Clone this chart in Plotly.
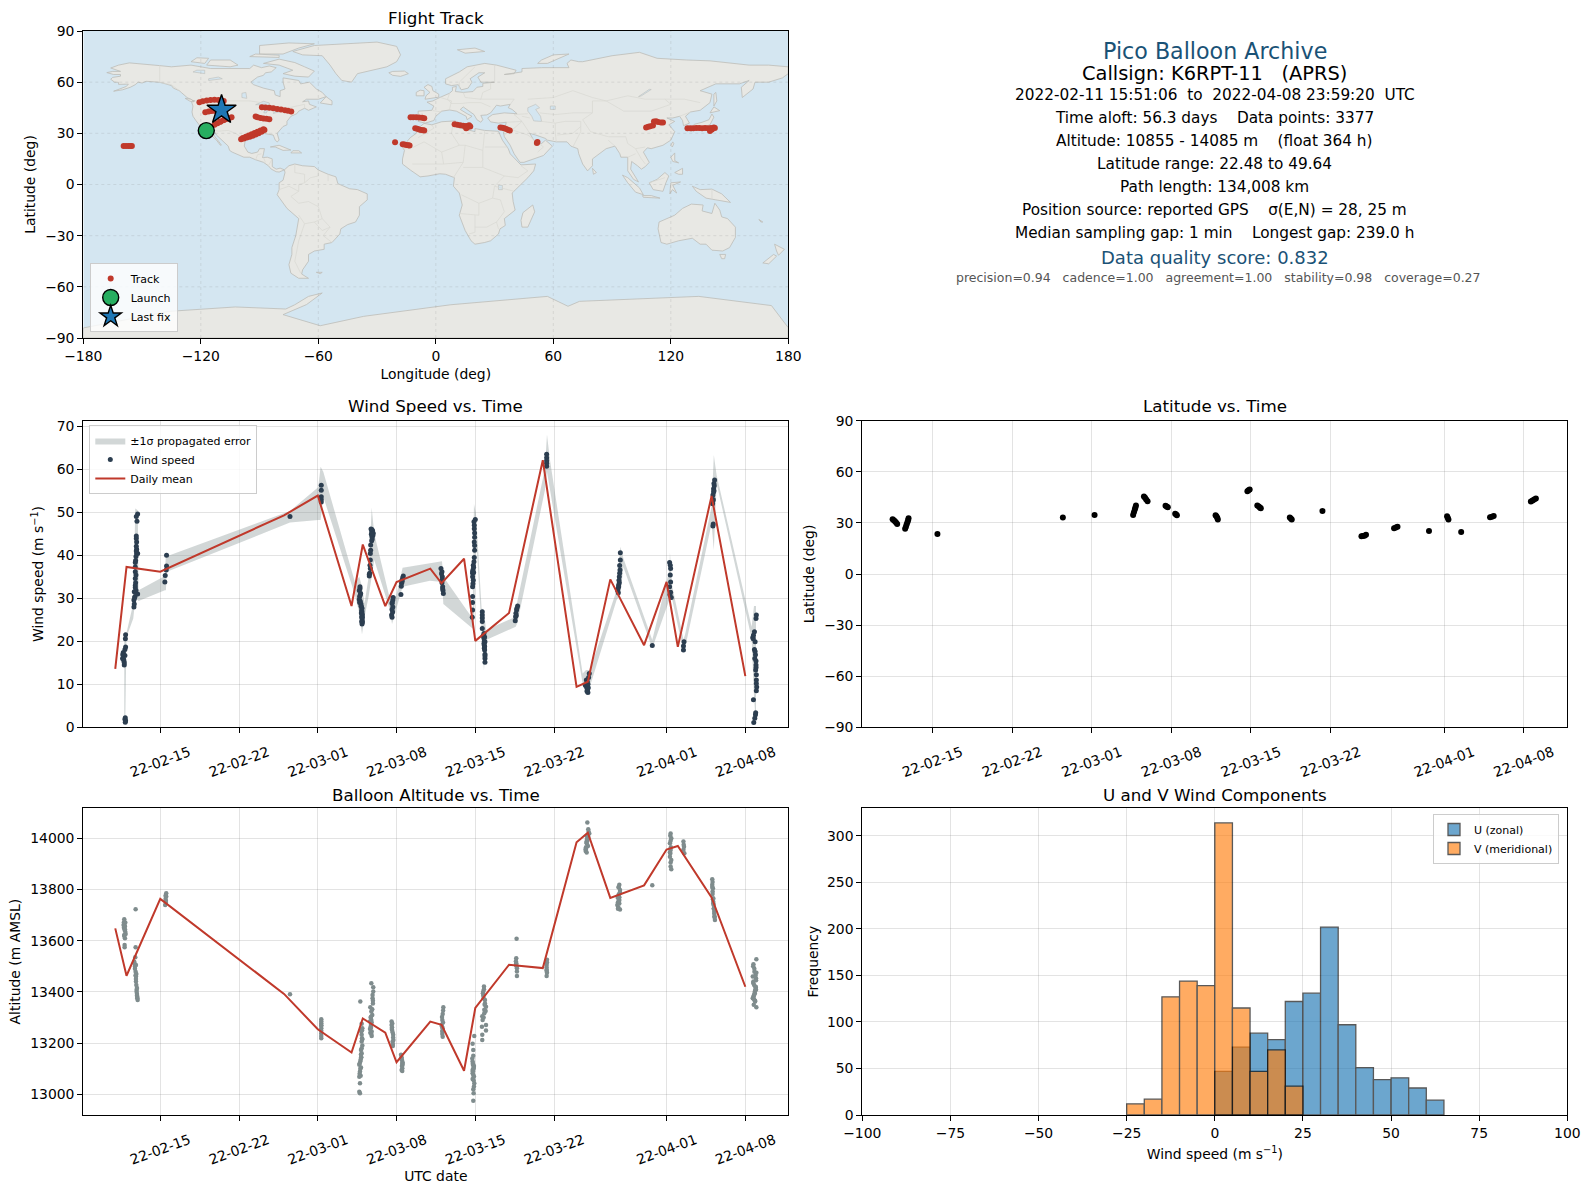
import pandas as pd
import plotly.graph_objects as go

W, H = 1590, 1189
BASE = pd.Timestamp("2022-02-15")

# --- flight track (lon, lat), one line per region ---
track_lon = [-159.4, -158.2, -157, -156, -155.2,
             -120.7, -119, -117, -115, -113, -111, -109.5, -108.3,
             -117.7, -116, -114.5, -113, -112,
             -113, -111.5, -110, -108.5, -107, -105.5, -104.3, -110, -108, -106,
             -99.4, -98, -96.5, -95, -93.5, -92, -90.5, -89, -87.5, -98.5, -97, -95.5, -94, -92.5, -91, -89.5, -88,
             -92, -91, -89.5, -88, -86.5, -85,
             -88.8, -87, -85, -83, -81, -79, -77, -75.5, -73.8,
             -12.9, -11.5, -10, -8.5, -7, -5.9,
             -10.5, -9.5, -8.5, -7.5, -6.5, -5.9,
             -20.8, -16.9, -16, -15, -14, -13.4,
             9.6, 11, 12.5, 14, 15.5, 17, 17.6, 16, 15.5,
             33, 34, 35, 36, 37, 37.8,
             51.6, 51.9,
             107.4, 108.5, 109.5, 110.9, 111.4, 112.5, 113.5, 115, 116,
             128.5, 130, 131.5, 133, 134.5, 136, 137.5, 139, 140.5, 142, 142.5, 141, 140]
track_lat = [22.5, 22.5, 22.6, 22.5, 22.5,
             48.2, 48.8, 49.2, 49.5, 49.64, 49.6, 49.3, 49,
             42.4, 42.8, 43.1, 43.3, 43.2,
             35, 35.9, 36.8, 37.6, 38.4, 39, 39.4, 37, 38, 38.8,
             26.6, 26.9, 27.5, 28, 28.6, 29.3, 30, 31, 32, 27.3, 28, 28.8, 29.4, 30.2, 31, 31.7, 32.4,
             39.8, 39.4, 39, 38.7, 38.5, 38.3,
             45.3, 45.2, 45, 44.7, 44.3, 44, 43.5, 43.2, 42.8,
             39.4, 39.5, 39.4, 39.3, 39.1, 38.9,
             33, 32.7, 32.3, 32, 31.8, 31.6,
             24.8, 23.6, 23.4, 23.1, 23, 22.9,
             35.3, 35, 34.8, 34.5, 34.3, 34.8, 34, 33.4, 33,
             33.4, 33.3, 33, 32.6, 32, 31.6,
             24.4, 24.9,
             33.4, 33.8, 34.2, 34.6, 37, 37.1, 36.6, 36.4, 36.3,
             33, 33, 33, 33.1, 33.1, 33, 33.2, 33, 33.2, 33.4, 33.2, 32.2, 31.4]
launch_lon, launch_lat = [-117.2], [31.6]
last_lon, last_lat = [-109.4], [43.7]

# --- base map outlines, traced by hand (lon, lat) ---
north_america = [(-166, 68.3), (-163, 67), (-161, 66.3), (-165, 66.3), (-168, 65.6), (-164.5, 64.5), (-161, 64.5), (-161, 63.5),
                 (-165, 62.8), (-166, 61.7), (-164, 60), (-162, 59.9), (-162, 58.7), (-158, 58.8), (-157, 58.8), (-158, 57.5),
                 (-162, 55.5), (-164.5, 54.7), (-160, 55.5), (-156, 57), (-153.5, 58.5), (-152, 60), (-150, 59.5), (-148, 60.5),
                 (-145, 60.3), (-141, 59.9), (-138, 59), (-135, 58), (-134, 56.5), (-131, 55), (-130, 54), (-128, 52), (-127, 51),
                 (-124.5, 49.5), (-123, 49), (-124.7, 48.3), (-124, 46), (-124.5, 42.5), (-124, 40), (-122.5, 37.5), (-120.5, 34.5),
                 (-118, 33.7), (-117, 32.5), (-115.7, 30), (-114, 28), (-112, 26), (-110, 23), (-109.5, 23.1), (-111, 25.5),
                 (-112.8, 28), (-114.7, 31.5), (-113, 31), (-112, 29), (-110, 27), (-109, 25.5), (-106, 22.5), (-105.3, 20),
                 (-104, 19), (-101, 17.5), (-98, 16), (-95, 16), (-92, 14.5), (-88, 13), (-85.5, 11), (-84, 9), (-81.5, 7.5),
                 (-80, 7.3), (-78, 8), (-77.3, 8.6), (-79.5, 9.6), (-81.5, 9), (-83.5, 10.5), (-83.5, 15), (-86, 16), (-88.5, 15.8),
                 (-88, 18), (-87.5, 21), (-90, 21), (-91, 19), (-94, 18.2), (-96, 19), (-97.8, 22.5), (-97.2, 26), (-97, 28),
                 (-94, 29.5), (-90, 29), (-89, 30.2), (-85, 29.6), (-83, 29), (-82, 26), (-81, 25), (-80, 26), (-81, 30), (-78, 34),
                 (-76, 35), (-76, 37), (-74, 40), (-71, 41.5), (-70, 43), (-67, 44.7), (-65, 43.5), (-61, 45.5), (-64.5, 47),
                 (-65, 49), (-68, 48.5), (-66, 50), (-60, 50), (-56, 51.5), (-58, 54), (-61, 56), (-64.5, 60), (-69, 59), (-70, 61),
                 (-78, 62.5), (-78, 60), (-77, 56), (-79.5, 55), (-79.5, 51.5), (-82, 52.5), (-82.5, 55), (-88, 56.5), (-93, 58.5),
                 (-94.5, 60), (-91, 63), (-88, 64), (-87, 65.5), (-84, 66), (-81.5, 68.5), (-85, 69.5), (-89, 68.5), (-93, 70),
                 (-95, 68), (-100, 68), (-108, 68), (-115, 68), (-125, 70), (-135, 69), (-141, 69.7), (-150, 70.5), (-156.5, 71.3),
                 (-162, 70), (-166, 68.3)]
south_america = [(-77.3, 8.6), (-75, 11), (-72, 12), (-68, 11), (-62, 10.5), (-60, 8.5), (-55, 6), (-51, 4.5), (-50, 0.5), (-44, -2.5),
                 (-40, -3), (-35, -5.5), (-35, -9), (-39, -13), (-39, -18), (-41, -22), (-45, -23.5), (-48.5, -26), (-49, -29),
                 (-53, -34), (-57, -35), (-57, -38), (-62, -39), (-65, -41), (-65, -45), (-68, -50), (-68.5, -52.5), (-65, -55),
                 (-70, -55), (-74, -52), (-75, -47), (-73.5, -41), (-73.5, -37), (-71.5, -30), (-70, -20), (-76, -14), (-81, -6),
                 (-80, -3), (-80, 1), (-78, 2.5), (-77, 7)]
africa = [(-6, 35.8), (-2, 35), (3, 36.8), (10, 37.3), (11, 33.5), (15, 32.3), (20, 31), (20, 32.8), (25, 31.7), (32, 31.2), (32.5, 30),
          (34, 26), (37, 21), (38, 18), (43, 12), (43.5, 11.5), (51, 12), (50, 8), (47, 4), (42, -1.5), (39, -5), (39.5, -10), (40.5, -15),
          (35, -20), (35.5, -24), (32.8, -26), (32, -29), (28, -33), (25, -34), (20, -35), (18, -33), (15, -27), (12, -18), (13.5, -12),
          (12, -5), (9, -1), (9.5, 4), (5, 6), (2, 6.3), (-4, 5), (-8, 4.5), (-13, 8.5), (-17, 12), (-17, 15), (-16, 20), (-17, 22),
          (-13, 27.5), (-10, 30), (-9, 33)]
eurasia = [(-9, 37), (-9, 39), (-9, 43), (-2, 43.5), (-1, 46), (-4.5, 48.3), (-1.5, 49), (2, 51), (4, 52), (7, 53.5), (8.5, 55), (8.5, 57),
           (10.5, 57.5), (10, 54.5), (14, 54), (19, 54.5), (21, 57), (24, 57.5), (24, 59.3), (30, 60), (23, 60), (21.5, 63), (25, 65.5),
           (22, 65.5), (17.5, 62), (18.5, 60), (16.5, 56.5), (13, 55.5), (11.5, 58.5), (8, 58), (5, 59), (5, 62), (12, 66), (16, 69), (25, 71),
           (31, 70), (41, 67), (40, 65), (35, 64.5), (44, 66), (44, 68), (54, 68.5), (68, 68.5), (67, 71), (69, 73), (73, 72), (75, 72),
           (80, 73.3), (90, 75.5), (104, 77.5), (113, 74), (128, 73), (140, 72.5), (160, 70), (170, 70), (180, 69), (180, 65), (177, 62.5),
           (170, 60), (163, 60), (162, 56), (156.5, 51), (156, 57), (160, 61), (155, 59), (143, 59), (135, 55), (141, 53), (140, 48),
           (135, 43.5), (130, 42.5), (127.5, 40), (129.5, 36), (126.5, 34.5), (126, 37.5), (124.5, 40), (121, 39), (118, 39), (122, 37),
           (119, 35), (122, 31), (120, 26), (116, 23), (110, 21), (108, 21.5), (106, 19), (109, 13), (107, 10.5), (105, 9), (103, 11),
           (100, 13.5), (99.5, 9), (103.5, 1.5), (101, 3), (98, 8), (98, 16), (94.5, 16), (94, 18), (91.5, 22.5), (87, 21), (82, 16.5),
           (80, 15), (80, 11), (77.5, 8), (75, 12), (73, 18), (72.5, 21), (69, 22.5), (67, 25), (61.5, 25), (57, 26), (56, 27), (51, 29),
           (48, 30), (50, 26), (51.5, 24.5), (54, 24), (56, 26), (59.5, 22.5), (55, 17), (45, 13), (43, 13), (40, 18), (38, 23), (35, 28),
           (34.5, 31), (35.5, 34), (36, 36.5), (32, 36), (28, 36.7), (26.5, 39), (29, 41), (35, 42), (41.5, 41.5), (39, 44), (37, 45),
           (38, 47), (33, 46), (31, 46.5), (28, 42), (26, 40.8), (23, 40.5), (24, 38), (23, 36.5), (21, 38), (19.5, 41), (14, 45.5),
           (12.5, 44), (16, 41.5), (18.5, 40), (16, 38), (15.5, 40), (10.5, 43), (7, 43.7), (3, 43), (0, 40), (-1, 37.5), (-5.5, 36)]
greenland = [(-73, 78), (-68, 76), (-58, 75.5), (-54, 70), (-51, 65), (-48, 61), (-43, 60), (-40, 65), (-25, 69), (-20, 72), (-18, 76),
             (-20, 81), (-30, 83.5), (-50, 82.5), (-62, 81.5)]
australia = [(114, -22), (113.5, -26), (115, -34), (118, -35), (124, -33), (131, -31.5), (135, -35), (138, -35), (141, -38.5), (146.5, -39),
             (150, -37), (153, -31), (153, -25), (149, -20), (146, -19), (145, -15), (142.5, -11), (141, -17), (136, -15.5), (136.5, -12),
             (130.5, -11.5), (126, -14), (122, -18)]
antarctica = [(-180, -84.1), (-136.4, -74.4), (-102.4, -71.8), (-76.6, -73), (-72, -70.5), (-65, -65.6), (-58, -63.6), (-66, -70.4),
              (-78, -76.3), (-59, -82.8), (-36.8, -77.3), (7.7, -70.5), (57, -65.6), (67.5, -71.4), (73.4, -68.5), (134.3, -65.6),
              (171.4, -71), (180, -84), (180, -90), (-180, -90)]
islands = [
    [(-80, 73.5), (-72, 71.5), (-67, 69), (-62, 66.5), (-65, 63), (-72, 63.5), (-78, 65), (-73, 67), (-80, 70), (-88, 71)],
    [(-117, 70), (-105, 69), (-101, 70), (-105, 73), (-115, 73)],
    [(-125, 72), (-118, 71), (-116, 74), (-122, 74.3)],
    [(-90, 76.5), (-78, 76.5), (-70, 80), (-62, 82.5), (-75, 83), (-90, 81.5)],
    [(-95, 75), (-80, 74.5), (-80, 75.8), (-92, 76.5)],
    [(-59, 47.8), (-53, 46.7), (-53, 49), (-56, 51.5)],
    [(-128, 50.5), (-125, 50), (-123.5, 48.5), (-125.5, 48.8)],
    [(-24, 65.5), (-22, 64), (-18, 63.4), (-14, 65), (-16, 66.5), (-22, 66.3)],
    [(-5.5, 50), (1.5, 51.2), (1.5, 53), (-1.5, 55), (-2, 57.5), (-4, 58.6), (-6, 57), (-3, 54), (-5, 52)],
    [(-10, 52), (-6, 52), (-6, 55), (-8, 55.3), (-10, 54)],
    [(15, 77), (25, 78), (20, 80), (11, 79)],
    [(52, 71), (57, 71), (68, 76.5), (60, 76), (54, 73)],
    [(-84.5, 22), (-80, 23), (-74, 20.2), (-78, 20), (-82, 22)],
    [(-74, 18.5), (-68.5, 18.5), (-70, 19.8), (-73, 19.8)],
    [(49.5, -12), (50.5, -16), (47, -25), (44, -25), (43.5, -21), (44.5, -16.5)],
    [(80, 9.5), (82, 7), (80.5, 6), (80, 8)],
    [(130.9, 34), (136, 33.5), (140, 35), (142, 39.5), (141, 41.3), (139.5, 38), (136, 36.5), (132, 35.3)],
    [(140, 42), (145, 43.3), (142, 45.5)],
    [(130, 33.5), (131.7, 33), (130.5, 31)],
    [(142, 46), (143.5, 49), (143, 54), (142, 53)],
    [(120, 23), (121, 25), (121.5, 24), (120.8, 22)],
    [(120, 16), (122, 18.5), (122, 14), (124, 12.7), (121, 13.5)],
    [(122, 7), (126, 9.5), (126, 6), (124, 6)],
    [(109, 1), (113, 3), (117, 7), (119, 5), (117.5, 1), (116, -4), (111, -3)],
    [(95.3, 5.5), (98, 4), (104, -2), (106, -6), (102, -4.5), (98, 1)],
    [(105.5, -6.5), (110, -6.5), (114.5, -8), (106, -7.5)],
    [(119.5, -5.5), (120, 1), (125, 1.5), (121, -0.5), (123, -5), (120.8, -3)],
    [(131, -1), (135, -3), (141, -2.7), (146, -5.5), (150.5, -10.5), (147, -10), (143, -9), (138, -8), (133, -4)],
    [(145, -41), (148, -41), (147.5, -43.5), (146, -43.5)],
    [(173, -35), (178, -38), (175, -41.5), (174, -39)],
    [(172.5, -41), (174, -42), (170, -46.5), (167, -46)],
    [(-61, -51.5), (-58, -51.5), (-59, -52.3)],
    [(165, -20.5), (167, -22), (166, -22)],
]
inland_water = [
    [(47, 45), (51, 47), (53, 45), (51, 44), (53.5, 40), (54, 37), (50, 37.3), (49, 40), (47, 43)],
    [(-92, 46.8), (-88, 48.8), (-85, 47.8), (-85, 46.6), (-88, 46.8)],
    [(-87.8, 42), (-86.5, 42), (-85.2, 45.5), (-87, 45.7)],
    [(-84.5, 46), (-80, 45.5), (-80.5, 44.5), (-82.5, 43), (-83.8, 44.5)],
    [(-83, 41.7), (-79, 42.8), (-79, 43.3), (-76.5, 43.5), (-76.5, 44), (-79.5, 43.8), (-82.5, 42.5)],
    [(-124, 66), (-118, 65), (-118, 67), (-122, 67)],
    [(-116, 61), (-109, 62), (-111, 63), (-116, 62)],
    [(-99, 51), (-96.5, 50.5), (-97, 54), (-99, 53.5)],
    [(32, -0.5), (34, -0.5), (34, -3), (32, -3)],
    [(58.5, 46), (61, 46), (61, 44), (58.5, 44)],
    [(103.5, 51.5), (105, 52), (110, 55.7), (109, 55.8)],
]
borders = [
    [(-123, 49), (-95, 49), (-89, 48), (-83, 46), (-82.5, 42.5), (-79, 43), (-75, 45), (-70, 46), (-67, 47), (-67, 45)],
    [(-141, 69.7), (-141, 60), (-135, 58.5), (-131, 55)],
    [(-117, 32.5), (-111, 31.3), (-106, 31.7), (-102, 29.8), (-97.2, 26)],
    [(-92, 14.5), (-91, 17.5), (-89, 18)], [(-88, 15.8), (-87, 13)], [(-83.5, 15), (-85.5, 11)],
    [(-72, 12), (-72, 7), (-67, 6), (-67, 1), (-70, 0), (-70, -4), (-74, -7), (-70, -11), (-65, -10), (-60, -13), (-58, -20), (-54, -25), (-57.5, -30), (-53, -34)],
    [(-60, 8.5), (-60, 5), (-64, 4), (-67, 1)], [(-80, -3), (-75, -1), (-70, -4)], [(-70, -18), (-67, -23), (-70, -33), (-72, -45), (-69, -52)],
    [(-58, -20), (-62, -22), (-67, -23)], [(-62, -22), (-58, -27), (-54, -25)], [(-55, 6), (-55, 2)],
    [(-9, 27.5), (-1, 33), (-2, 35)], [(9, 37), (8, 30), (12, 23), (15, 23), (24, 20), (25, 31.7)], [(-17, 21), (-13, 21), (-6, 25), (3, 19), (12, 23)],
    [(25, 22), (37, 22)], [(24, 20), (24, 10), (35, 5), (42, 4), (47, 8), (43.5, 11)], [(3, 19), (4, 12), (14, 13), (15, 23)], [(14, 13), (9, 4)],
    [(-12, 12), (4, 12)], [(24, 10), (14, 10)], [(35, 5), (30, -1), (29, -8), (22, -11), (13, -6)], [(30, -1), (40, -4)], [(29, -8), (33, -9), (35, -16), (31, -22), (32, -26)],
    [(22, -11), (22, -18), (12, -17)], [(20, -18), (20, -28), (17, -29)], [(20, -25), (26, -25), (31, -22)],
    [(-1.5, 43.3), (3, 42.5)], [(-7, 42), (-7, 37)], [(2.5, 51), (8, 49), (7, 44)], [(7, 53.5), (6, 50), (8, 47.5), (13, 47.5), (17, 48), (23, 48), (28, 45.5)],
    [(14, 54), (15, 51), (23, 50), (24, 54), (28, 56), (28, 59.5)], [(12, 56), (12, 60), (20, 69)], [(30, 60), (30, 70)], [(23, 50), (40, 50), (38, 47)],
    [(47, 41.5), (40, 41), (44, 37), (36, 36.5)], [(44, 37), (48, 30)], [(44, 37), (39, 32), (35, 29)], [(39, 32), (47, 29), (55, 22), (52, 19)],
    [(48, 39), (44, 40)], [(54, 37), (61, 36), (61, 31), (61.5, 25)], [(61, 36), (66, 37), (74, 37), (74, 34), (70, 30), (62, 29)], [(74, 34), (74, 31), (70, 22)],
    [(47, 50), (60, 51), (70, 55), (80, 51), (87, 49)], [(53, 42), (61, 41), (70, 42), (80, 42), (80, 49), (87, 49)], [(87, 49), (98, 52), (107, 50), (117, 50), (127, 50), (135, 48)],
    [(87, 49), (96, 43), (110, 43), (120, 47), (117, 50)], [(80, 42), (75, 38), (79, 31), (88, 28), (97, 28), (98, 24), (102, 21), (107, 22)],
    [(102, 21), (105, 15), (107, 12)], [(98, 16), (102, 18)], [(88, 26), (92, 22)],
    [(124.5, 40), (130, 42.5)], [(141, -2.7), (141, -9)], [(109, 1), (117, 4)],
]

# --- wind speed samples (days after 2022-02-15, m/s), one line per sampling window ---
wind_day = [-3.08, -3.1, -3.08, -3.14, -3.29, -3.14, -3.35, -3.23, -3.2, -3.33, -3.26, -3.29, -3.2,
            -3.11, -3.14, -3.08, -3.11,
            -2.34, -2.31, -2.34, -2.25, -2.31, -2.01, -2.16, -2.22, -2.19, -2.22, -2.22, -2.22, -2.22, -2.16, -2.1, -2.01, -2.1, -2.13, -2.1, -2.13, -2.13, -2.07, -2.13, -2.01, -2.28, -2.22, -2.16, -2.13, -2.19,
            0.41, 0.44, 0.53, 0.56, 0.56,
            11.53,
            14.31, 14.31, 14.31, 14.31, 14.31,
            17.75, 17.69, 17.81, 17.69, 17.78, 17.84, 17.93, 17.93, 17.96, 17.93, 17.96, 17.93, 17.75, 17.72, 17.84, 17.9, 17.96, 17.78, 17.72, 17.87, 17.9, 17.93, 17.96, 17.87, 17.9,
            18.58, 18.67, 18.61, 18.67, 18.67, 18.7, 18.79, 18.81, 18.79, 18.87, 18.81, 18.93, 18.9, 18.84, 18.58, 18.64, 18.7, 18.76, 18.73,
            20.7, 20.67, 20.6, 20.67, 20.6, 20.56, 20.6, 20.62, 20.65,
            21.6, 21.48, 21.45, 21.42, 21.39, 21.55, 21.5,
            24.95, 25.04, 25.07, 25.04, 25.1, 25.13, 25.16, 25, 25.07, 25.1,
            28, 27.88, 27.91, 27.94, 27.94, 27.91, 27.94, 27.91, 27.82, 27.79, 27.76, 27.76, 27.82, 27.76, 27.76, 27.76, 27.76, 27.73, 27.91, 27.94, 27.88, 27.85, 27.79, 27.76, 27.85,
            28.62, 28.62, 28.62, 28.62, 28.77, 28.77, 28.86, 28.8, 28.8, 28.86, 28.86, 28.86, 28.83, 28.8, 28.83, 28.62, 28.7, 28.77, 28.83, 28.86,
            31.76, 31.67, 31.61, 31.58, 31.55, 31.7, 31.64,
            34.34, 34.34, 34.34, 34.34, 34.34,
            38.13, 38.07, 37.96, 37.78, 37.9, 37.96, 38.01, 37.93, 38.04, 37.87, 38.01, 37.98,
            40.89, 40.89, 40.86, 40.8, 40.8, 40.74, 40.65, 40.71, 40.77, 40.83, 40.68, 40.74, 40.83,
            43.73,
            45.27, 45.36, 45.33, 45.36, 45.27, 45.3, 45.42, 45.33, 45.36,
            46.55, 46.5, 46.5,
            49.27, 49.21, 49.18, 49.12, 49.09, 49.15, 49.12, 49.24, 49.15, 49.21, 49.18, 49.12,
            52.98, 52.95, 52.81, 52.66, 52.87, 52.81, 52.84, 52.95, 52.92, 52.98, 53.01, 52.98, 52.72, 52.9, 52.84, 52.75, 52.7, 52.95, 52.98, 52.92, 52.72, 52.9, 52.87, 52.95, 52.98]
wind_speed = [21.5, 20.6, 18.7, 18.1, 17.4, 16.7, 16, 15.4, 14.5, 16.9, 15.8, 17.1, 15,
              2.2, 1.9, 1.5, 1.2,
              28, 28.7, 29.6, 30.4, 31.5, 31, 31.9, 32.5, 33.6, 34.6, 36.2, 37.3, 38.3, 39.7, 40.4, 40.4, 41.4, 42.1, 43.1, 43.9, 44.5, 47.9, 49, 49.6, 30.1, 33, 35.4, 41, 38.8,
              33.8, 35.3, 36.6, 37.5, 40,
              49,
              56.3, 55.1, 53.6, 53, 52.4,
              32.3, 31.8, 31.1, 29.7, 29.3, 28.7, 27.7, 26.9, 26.1, 25.3, 24.8, 24, 32.7, 30.4, 28.2, 25.7, 24.4, 30.8, 29, 28.1, 27.2, 26.4, 25.6, 26.6, 24.6,
              35.6, 36.9, 35.8, 38.9, 40.4, 42.4, 43.4, 44.3, 45.5, 45.7, 46, 45.1, 44.6, 43.8, 35.2, 37.7, 41.2, 44.9, 46.1,
              30.2, 29.6, 28.8, 28, 27.4, 26.1, 25.6, 29, 26.8,
              35.2, 34.2, 33.5, 32.8, 30.9, 34.8, 33.9,
              36.9, 36.2, 35, 33.6, 32.7, 31.8, 31.1, 35.7, 34.4, 32.2,
              48.3, 47.8, 47, 45.2, 44.2, 43.1, 41.2, 39.5, 37.7, 36.6, 35.8, 35, 34.2, 32.7, 30.4, 29, 27.3, 25.6, 46.2, 42.3, 38.5, 36, 33.4, 36.2, 37.2,
              26.9, 26.1, 24.6, 23, 21.8, 20.7, 19.9, 19.1, 18.4, 17, 16, 15.1, 21, 20, 18.8, 25.4, 21.3, 19.5, 18, 16.6,
              28.2, 27.3, 26.5, 25.7, 24.8, 27.7, 26,
              63.5, 62.7, 62, 60.7, 61.4,
              12.5, 11.6, 10.6, 9.8, 9.3, 8.7, 8.1, 8.4, 9.2, 11, 10, 8.9,
              40.6, 38.9, 36.6, 35, 33.6, 32.7, 31.8, 31.3, 34.2, 37.6, 32.2, 33.1, 35.8,
              19,
              38.3, 36.9, 35.4, 33.8, 32.7, 30.8, 30.2, 37.7, 31.4,
              19.9, 18.9, 18,
              57.5, 56.7, 55.5, 54, 52, 47.3, 46.8, 56.2, 53, 55, 54.7, 52.7,
              26.1, 25.3, 22.2, 20.9, 19.9, 18.1, 16, 14.5, 13.3, 11, 9.4, 8.5, 6.4, 2.9, 2.1, 1.1, 20.6, 15.4, 12.2, 3.4, 21.4, 16.9, 17.6, 13.9, 10.2]

# +/- 1 sigma envelope read along the track of the samples
band_day = [-3.2, -3.11, -3.0, -2.4, -2.22, -2.0, -1.93, 0.41, 0.5, 0.59, 11.53, 14.04, 14.25, 14.49, 17.3, 17.69, 17.93, 18.16, 18.52, 18.79,
            19.02, 20.36, 20.6, 20.95, 21.54, 23.97, 25.04, 25.16, 27.76, 27.88, 28.06, 28.56, 28.77, 28.95, 31.59, 31.73, 34.19, 34.37,
            34.64, 37.54, 37.84, 38.19, 40.56, 40.89, 41.16, 43.73, 45.24, 45.3, 45.51, 46.5, 46.64, 49.0, 49.2, 49.45, 52.56, 52.77, 52.95]
band_hi = [21.8, 21.8, 22, 28.8, 50.9, 50.5, 31.9, 35.2, 40.3, 39.8, 50.3, 55.8, 60.6, 59.4, 33.8, 35, 32.7, 28.8, 35, 51.1,
           45, 30.4, 30.8, 30.4, 37.1, 38.1, 38.6, 35, 25.3, 51.9, 49.7, 27.7, 27.3, 22.6, 25.7, 29.2, 60.2, 68.1,
           62.1, 12.5, 13.3, 13.3, 31.9, 42, 39.3, 20.3, 36.6, 40.6, 32.7, 20.4, 21.5, 51.3, 63.3, 58.6, 23.4, 28.2, 28.2]
band_lo = [1.1, 1.1, 21, 25.3, 29.6, 29.6, 29.4, 31.9, 31.9, 36.2, 47.6, 48.2, 48.2, 53.6, 30.8, 26.5, 21.6, 25.7, 30.4, 35,
           38.9, 27.7, 24, 27.3, 32.7, 34.1, 33.8, 28.7, 23, 23, 45, 22.6, 13.2, 20.3, 23.4, 24.2, 55.2, 59.4,
           55.9, 10.2, 7.5, 9.5, 29.6, 30.8, 37.3, 18.4, 29.6, 29.6, 29.6, 17.6, 18.4, 47.4, 41.2, 56.7, 20.7, 7.1, 0.5]

# --- daily means ---
daily_dates = ["2022-02-11", "2022-02-12", "2022-02-15", "2022-02-26", "2022-03-01", "2022-03-04", "2022-03-05", "2022-03-07",
               "2022-03-08", "2022-03-11", "2022-03-12", "2022-03-14", "2022-03-15", "2022-03-18", "2022-03-21", "2022-03-24",
               "2022-03-25", "2022-03-27", "2022-03-30", "2022-04-01", "2022-04-02", "2022-04-05", "2022-04-08"]
daily_wind = [13.6, 37.3, 36.2, 49.3, 53.9, 28.2, 42.5, 28.2, 33.8, 36.9, 33.5, 39.2, 20.1, 26.6, 62.1, 9.4, 10.6, 34.4, 19.1, 33.8, 18.7, 53.8, 11.9]
daily_alt = [13648, 13463, 13763, 13392, 13254, 13163, 13296, 13241, 13125, 13284, 13271, 13092, 13337, 13506, 13493, 13984, 14022, 13767,
             13816, 13956, 13970, 13769, 13420]

# --- altitude samples ---
alt_day = [-3.2, -3.11, -3.26, -3.17, -3.08, -3.14, -3.17, -3.17, -3.23, -3.14, -3.11, -3.2, -3.23, -3.17, -3.14, -3.2,
           -2.19, -2.19, -2.31, -2.25, -2.19, -2.16, -2.16, -2.13, -2.1, -2.07, -2.01, -2.22, -2.16, -2.13, -2.07, -2.04, -2.28, -2.25, -2.19, -2.16, -2.1, -2.07, -2.04,
           0.53, 0.53, 0.5, 0.44, 0.47, 0.5, 0.47,
           11.53,
           14.31, 14.31, 14.31, 14.31, 14.31, 14.31, 14.31, 14.31, 14.31, 14.31,
           17.78, 17.96, 17.9, 17.9, 17.84, 17.9, 17.78, 17.69, 17.75, 17.81, 17.75, 17.69, 17.87, 17.93, 17.96, 17.87, 17.84, 17.72, 17.75, 17.9, 17.84, 17.72, 17.78, 17.84, 17.9, 17.96, 17.93, 17.69, 17.81,
           18.76, 18.93, 18.93, 18.87, 18.9, 18.76, 18.73, 18.64, 18.7, 18.79, 18.79, 18.67, 18.76, 18.87, 18.84, 18.73, 18.64, 18.67, 18.73, 18.79, 18.7, 18.76, 18.84, 18.9,
           20.56, 20.56, 20.6, 20.7, 20.72, 20.67, 20.6, 20.65, 20.7, 20.62, 20.65, 20.58, 20.67,
           21.4, 21.48, 21.54, 21.51, 21.51, 21.45, 21.54, 21.42, 21.48, 21.45, 21.51,
           25.16, 25.1, 25.07, 25.01, 25.07, 25.1, 25.14, 25.04, 25.1, 25.13, 25.07, 25.04, 25.1,
           27.91, 27.76, 27.82, 27.76, 27.76, 27.88, 27.91, 27.85, 27.82, 27.79, 27.85, 27.82, 27.76, 27.88, 27.85, 27.82, 27.79, 27.73, 27.76, 27.82, 27.88, 27.79, 27.85,
           28.77, 28.71, 28.86, 28.95, 28.8, 28.65, 28.95, 28.59, 28.95, 28.62, 28.62, 28.77, 28.71, 28.86, 28.8, 28.74, 28.92, 28.83, 28.74, 28.68, 28.62,
           31.67, 31.64, 31.64, 31.7, 31.7, 31.61, 31.67, 31.7, 31.64,
           34.37, 34.34, 34.34, 34.34, 34.37, 34.34, 34.37, 34.34,
           37.96, 38.04, 38.13, 37.96, 37.9, 37.81, 37.9, 37.9, 37.96, 38.01, 37.84, 37.81, 38.07, 38.04, 37.87, 37.84, 37.93,
           40.8, 40.86, 40.74, 40.8, 40.62, 40.86, 40.74, 40.8, 40.68, 40.86, 40.72, 40.66, 40.8, 40.74, 40.83, 40.68, 40.77,
           43.73,
           45.36, 45.42, 45.3, 45.36, 45.3, 45.36, 45.42, 45.33, 45.38, 45.33, 45.36, 45.3, 45.42, 45.36,
           46.5, 46.55, 46.58, 46.52, 46.5,
           49.06, 49.06, 49.09, 49.15, 49.18, 49.24, 49.3, 49.09, 49.12, 49.15, 49.2, 49.26, 49.06, 49.09, 49.12, 49.15, 49.2, 49.24, 49.27,
           52.98, 52.72, 52.81, 52.95, 52.78, 52.95, 52.66, 52.87, 52.98, 52.8, 52.9, 52.72, 52.84, 52.75, 52.92, 52.7, 52.98, 52.95, 52.92, 52.84, 52.72, 52.8, 52.87, 52.75, 52.7, 52.66, 52.9, 52.78]
altitude = [13684, 13671, 13661, 13642, 13626, 13609, 13583, 13574, 13650, 13655, 13635, 13618, 13672, 13660, 13645, 13622,
            13723, 13574, 13518, 13499, 13479, 13460, 13440, 13427, 13408, 13392, 13368, 13535, 13505, 13470, 13415, 13380, 13510, 13490, 13465, 13450, 13400, 13385, 13375,
            13785, 13772, 13756, 13739, 13763, 13748, 13775,
            13391,
            13293, 13277, 13258, 13238, 13219, 13285, 13268, 13248, 13228, 13270,
            13362, 13258, 13232, 13206, 13173, 13160, 13128, 13115, 13089, 13072, 13043, 13010, 13245, 13219, 13190, 13145, 13105, 13080, 13004, 13275, 13143, 13120, 13100, 13155, 13180, 13215, 13250, 13068, 13135,
            13434, 13418, 13401, 13375, 13355, 13323, 13303, 13284, 13264, 13245, 13228, 13340, 13290, 13388, 13310, 13272, 13255, 13240, 13260, 13280, 13300, 13235, 13332, 13365,
            13284, 13271, 13251, 13232, 13212, 13189, 13262, 13242, 13222, 13276, 13205, 13255, 13196,
            13154, 13134, 13115, 13102, 13091, 13145, 13125, 13140, 13110, 13095, 13120,
            13340, 13314, 13290, 13271, 13245, 13225, 13327, 13302, 13258, 13280, 13235, 13265, 13250,
            13228, 13197, 13173, 13128, 13095, 13069, 13043, 13004, 12975, 13115, 13055, 13150, 13082, 13030, 13105, 13020, 13090, 13140, 13060, 13075, 13110, 13120, 13100,
            13421, 13401, 13368, 13342, 13316, 13290, 13271, 13264, 13249, 13232, 13212, 13410, 13385, 13355, 13330, 13300, 13325, 13350, 13375, 13395, 13305,
            13607, 13531, 13512, 13492, 13462, 13520, 13500, 13480, 13505,
            13525, 13505, 13486, 13462, 13515, 13495, 13475, 13482,
            14062, 14035, 14019, 14000, 13980, 13957, 13944, 14010, 13990, 13970, 13965, 13950, 14025, 14005, 13985, 13960, 13995,
            13818, 13798, 13779, 13759, 13739, 13722, 13808, 13770, 13750, 13788, 13730, 13768, 13745, 13810, 13785, 13725, 13755,
            13816,
            14019, 14000, 13980, 13954, 13928, 13905, 13879, 14010, 13965, 13940, 13990, 13945, 13915, 13890,
            13987, 13967, 13941, 13975, 13955,
            13840, 13818, 13792, 13766, 13739, 13713, 13681, 13829, 13805, 13752, 13726, 13695, 13810, 13782, 13762, 13745, 13725, 13705, 13690,
            13527, 13508, 13479, 13453, 13427, 13408, 13375, 13362, 13340, 13490, 13465, 13440, 13395, 13385, 13418, 13500, 13475, 13445, 13420, 13400, 13380, 13390, 13365, 13350, 13435, 13460, 13410, 13370]

# --- latitude samples ---
lat_day = [-3.5, -3.4, -3.3, -3.2, -3.1, -2.4, -2.33, -2.27, -2.2, -2.14, -2.1, 0.44, 11.47, 14.26,
           17.65, 17.72, 17.8, 17.85, 17.9, 18.6, 18.7, 18.8, 18.92, 20.5, 20.6, 20.7, 21.35, 21.43, 21.5,
           24.9, 24.97, 25.05, 25.1, 27.7, 27.8, 27.9, 28.57, 28.7, 28.8, 28.88, 31.43, 31.52, 31.6, 34.3,
           37.73, 37.85, 38, 38.13, 40.6, 40.75, 40.9, 43.67, 45.26, 45.32, 45.38, 46.5,
           49.04, 49.2, 49.36, 52.63, 52.78, 52.92, 53.07]
lat_deg = [32.2, 31.6, 31, 30.2, 29.4, 26.5, 27.8, 29, 30.4, 31.6, 32.7, 23.5, 33.1, 34.7,
           34.7, 36.2, 37.8, 39, 40.2, 45.5, 44.8, 43.7, 42.7, 40, 39.6, 39.2, 35.3, 34.9, 34.5,
           34.5, 33.9, 33, 32, 48.6, 49.1, 49.6, 40.2, 39.6, 39, 38.6, 33.1, 32.6, 32, 37,
           22.2, 22.3, 22.5, 23, 26.9, 27.3, 27.8, 25.3, 33.9, 33, 32, 24.7,
           33.3, 33.6, 34.1, 42.5, 43.1, 43.7, 44.3]

# --- histogram counts, 5 m/s bins ---
u_left = [0, 5, 10, 15, 20, 25, 30, 35, 40, 45, 50, 55, 60]
u_count = [47, 73, 88, 81, 122, 131, 202, 97, 51, 38, 40, 29, 16]
v_left = [-25, -20, -15, -10, -5, 0, 5, 10, 15, 20]
v_count = [12, 17, 127, 144, 139, 314, 115, 47, 70, 31]

# --- text panel ---
tick_dates = ["2022-02-15", "2022-02-22", "2022-03-01", "2022-03-08", "2022-03-15", "2022-03-22", "2022-04-01", "2022-04-08"]
tick_labels = ["22-02-15", "22-02-22", "22-03-01", "22-03-08", "22-03-15", "22-03-22", "22-04-01", "22-04-08"]
info_lines = [
    ("Pico Balloon Archive", 22.2, "#1a5276", 1214.5, 51),
    ("Callsign: K6RPT-11   (APRS)", 19.4, "black", 1214.5, 73.8),
    ("2022-02-11 15:51:06  to  2022-04-08 23:59:20  UTC", 15.3, "black", 1214.5, 95),
    ("Time aloft: 56.3 days    Data points: 3377", 15.3, "black", 1214.5, 118),
    ("Altitude: 10855 - 14085 m    (float 364 h)", 15.3, "black", 1214.5, 141),
    ("Latitude range: 22.48 to 49.64", 15.3, "black", 1214.5, 164),
    ("Path length: 134,008 km", 15.3, "black", 1214.5, 187),
    ("Position source: reported GPS    σ(E,N) = 28, 25 m", 15.3, "black", 1214.5, 210),
    ("Median sampling gap: 1 min    Longest gap: 239.0 h", 15.3, "black", 1214.5, 233),
    ("Data quality score: 0.832", 18, "#1a5276", 1214.5, 257.5),
    ("precision=0.94   cadence=1.00   agreement=1.00   stability=0.98   coverage=0.27", 12.5, "#555555", 1218.5, 278),
]

FONT = "DejaVu Sans"
RED = "#c0392b"
GRID = "rgba(128,128,128,0.22)"


def dates(days):
    return BASE + pd.to_timedelta(pd.Series(days), unit="D")


def poly_xy(points):
    lon = [p[0] for p in points] + [points[0][0]]
    lat = [p[1] for p in points] + [points[0][1]]
    return lon, lat


fig = go.Figure()

# map background
for poly in [north_america, south_america, africa, eurasia, greenland, australia, antarctica] + islands:
    lon, lat = poly_xy(poly)
    fig.add_trace(go.Scatter(x=lon, y=lat, mode="lines", fill="toself", fillcolor="#e8e8e4", hoverinfo="skip",
                             line=dict(color="#bdbdb8", width=0.8), showlegend=False, xaxis="x", yaxis="y"))
for poly in inland_water:
    lon, lat = poly_xy(poly)
    fig.add_trace(go.Scatter(x=lon, y=lat, mode="lines", fill="toself", fillcolor="#d4e6f1", hoverinfo="skip",
                             line=dict(color="#bdbdb8", width=0.6), showlegend=False, xaxis="x", yaxis="y"))
for line in borders:
    fig.add_trace(go.Scatter(x=[p[0] for p in line], y=[p[1] for p in line], mode="lines", hoverinfo="skip",
                             line=dict(color="#d8d8d3", width=0.7), showlegend=False, xaxis="x", yaxis="y"))
for lon in [-120, -60, 0, 60, 120]:
    fig.add_trace(go.Scatter(x=[lon, lon], y=[-90, 90], mode="lines", line=dict(color="rgba(128,128,128,0.22)", width=0.8, dash="dot"),
                             hoverinfo="skip", showlegend=False, xaxis="x", yaxis="y"))
for lat in [-60, -30, 0, 30, 60]:
    fig.add_trace(go.Scatter(x=[-180, 180], y=[lat, lat], mode="lines", line=dict(color="rgba(128,128,128,0.22)", width=0.8, dash="dot"),
                             hoverinfo="skip", showlegend=False, xaxis="x", yaxis="y"))

fig.add_trace(go.Scatter(x=track_lon, y=track_lat, mode="markers", name="Track", marker=dict(color=RED, size=6),
                         xaxis="x", yaxis="y", legend="legend"))
fig.add_trace(go.Scatter(x=launch_lon, y=launch_lat, mode="markers", name="Launch",
                         marker=dict(color="#27ae60", size=16, line=dict(color="black", width=1.4)),
                         xaxis="x", yaxis="y", legend="legend"))
fig.add_trace(go.Scatter(x=last_lon, y=last_lat, mode="markers", name="Last fix",
                         marker=dict(color="#1f77b4", size=22, symbol="star", line=dict(color="black", width=1.4)),
                         xaxis="x", yaxis="y", legend="legend"))

# wind speed
band_x = list(dates(band_day)) + list(dates(band_day))[::-1]
band_y = band_hi + band_lo[::-1]
fig.add_trace(go.Scatter(x=band_x, y=band_y, mode="lines", fill="toself", fillcolor="rgba(127,140,141,0.35)",
                         line=dict(width=0, color="rgba(127,140,141,0.35)"), name="±1σ propagated error",
                         xaxis="x3", yaxis="y3", legend="legend2"))
fig.add_trace(go.Scatter(x=dates(wind_day), y=wind_speed, mode="markers", name="Wind speed",
                         marker=dict(color="#2c3e50", size=5), xaxis="x3", yaxis="y3", legend="legend2"))
fig.add_trace(go.Scatter(x=daily_dates, y=daily_wind, mode="lines", name="Daily mean",
                         line=dict(color=RED, width=2), xaxis="x3", yaxis="y3", legend="legend2"))

# latitude
fig.add_trace(go.Scatter(x=dates(lat_day), y=lat_deg, mode="markers", marker=dict(color="black", size=6),
                         showlegend=False, xaxis="x4", yaxis="y4"))

# altitude
fig.add_trace(go.Scatter(x=dates(alt_day), y=altitude, mode="markers", marker=dict(color="#7f8c8d", size=4.5),
                         showlegend=False, xaxis="x5", yaxis="y5"))
fig.add_trace(go.Scatter(x=daily_dates, y=daily_alt, mode="lines", line=dict(color=RED, width=2),
                         showlegend=False, xaxis="x5", yaxis="y5"))

# histogram
fig.add_trace(go.Bar(x=u_left, y=u_count, offset=0, width=5, name="U (zonal)", opacity=0.65,
                     marker=dict(color="#1f77b4", line=dict(color="black", width=1.3)),
                     xaxis="x6", yaxis="y6", legend="legend3"))
fig.add_trace(go.Bar(x=v_left, y=v_count, offset=0, width=5, name="V (meridional)", opacity=0.65,
                     marker=dict(color="#ff7f0e", line=dict(color="black", width=1.3)),
                     xaxis="x6", yaxis="y6", legend="legend3"))


def axis(x0=None, x1=None, y0=None, y1=None, anchor=None, title=None, standoff=None, **kw):
    if x0 is not None:
        dom = [x0 / W, x1 / W]
    else:
        dom = [1 - y1 / H, 1 - y0 / H]
    d = dict(domain=dom, anchor=anchor, showline=True, linecolor="black", linewidth=1.1, mirror=True, ticks="outside",
             ticklen=5, tickwidth=1.1, tickcolor="black", gridcolor=GRID, gridwidth=1, zeroline=False,
             tickfont=dict(family=FONT, size=13.9, color="black"))
    if title:
        d["title"] = dict(text=title, font=dict(family=FONT, size=13.9, color="black"), standoff=standoff)
    d.update(kw)
    return d


LX0, LX1, RX0, RX1 = 83.3, 788.3, 862.3, 1567.3
ROWS = [(31, 338), (420.7, 727.3), (808.3, 1115)]
WIND_RANGE = ["2022-02-08 03:50", "2022-04-11 19:40"]
LAT_RANGE = ["2022-02-08 20:00", "2022-04-11 20:00"]
date_kw = dict(type="date", tickmode="array", tickvals=tick_dates, ticktext=tick_labels, tickangle=-20, ticklabelshift=29, ticklabelstandoff=6)

fig.update_layout(
    width=W, height=H, margin=dict(l=0, r=0, t=0, b=0, autoexpand=False), paper_bgcolor="white", plot_bgcolor="white",
    barmode="overlay", font=dict(family=FONT, color="black"), hovermode=False,
    xaxis=axis(LX0, LX1, anchor="y", title="Longitude (deg)", standoff=6, range=[-180, 180], tickmode="array",
               tickvals=[-180, -120, -60, 0, 60, 120, 180], showgrid=False),
    yaxis=axis(y0=ROWS[0][0], y1=ROWS[0][1], anchor="x", title="Latitude (deg)", standoff=6, range=[-90, 90], tickmode="array",
               tickvals=[-90, -60, -30, 0, 30, 60, 90], showgrid=False),
    xaxis3=axis(LX0, LX1, anchor="y3", range=WIND_RANGE, **date_kw),
    yaxis3=axis(y0=ROWS[1][0], y1=ROWS[1][1], anchor="x3", title="Wind speed (m s<sup>−1</sup>)", standoff=9, range=[0, 71.3], dtick=10),
    xaxis4=axis(RX0, RX1, anchor="y4", range=LAT_RANGE, **date_kw),
    yaxis4=axis(y0=ROWS[1][0], y1=ROWS[1][1], anchor="x4", title="Latitude (deg)", standoff=6, range=[-90, 90], tickmode="array",
                tickvals=[-90, -60, -30, 0, 30, 60, 90]),
    xaxis5=axis(LX0, LX1, anchor="y5", title="UTC date", standoff=0, range=WIND_RANGE, **date_kw),
    yaxis5=axis(y0=ROWS[2][0], y1=ROWS[2][1], anchor="x5", title="Altitude (m AMSL)", standoff=6, range=[12919, 14117], dtick=200, tick0=13000,
                tickformat="d"),
    xaxis6=axis(RX0, RX1, anchor="y6", title="Wind speed (m s<sup>−1</sup>)", standoff=9, range=[-100, 100], dtick=25, tick0=0),
    yaxis6=axis(y0=ROWS[2][0], y1=ROWS[2][1], anchor="x6", title="Frequency", standoff=5, range=[0, 329.7], dtick=50),
    legend=dict(x=89.7 / W, y=1 - 332 / H, xanchor="left", yanchor="bottom", bgcolor="rgba(255,255,255,0.8)",
                bordercolor="#cccccc", borderwidth=1, font=dict(family=FONT, size=11), itemsizing="trace", tracegroupgap=0),
    legend2=dict(x=89.3 / W, y=1 - 425 / H, xanchor="left", yanchor="top", bgcolor="rgba(255,255,255,0.8)",
                 bordercolor="#cccccc", borderwidth=1, font=dict(family=FONT, size=11), itemsizing="trace"),
    legend3=dict(x=1559 / W, y=1 - 814 / H, xanchor="right", yanchor="top", bgcolor="rgba(255,255,255,0.8)",
                 bordercolor="#cccccc", borderwidth=1, font=dict(family=FONT, size=11)),
    shapes=[dict(type="rect", xref="x", yref="y", x0=-180, x1=180, y0=-90, y1=90, layer="below",
                 fillcolor="#d4e6f1", line=dict(width=0))],
)

annotations = []
for text, x, y in [("Flight Track", (LX0 + LX1) / 2, 18), ("Wind Speed vs. Time", (LX0 + LX1) / 2, 406),
                   ("Latitude vs. Time", (RX0 + RX1) / 2, 406), ("Balloon Altitude vs. Time", (LX0 + LX1) / 2, 795),
                   ("U and V Wind Components", (RX0 + RX1) / 2, 795)]:
    annotations.append(dict(text=text, x=x / W, y=1 - y / H, xref="paper", yref="paper", showarrow=False,
                            xanchor="center", yanchor="middle", font=dict(family=FONT, size=16.7, color="black")))
for text, size, color, x, y in info_lines:
    annotations.append(dict(text=text.replace("   ", "&nbsp;&nbsp;&nbsp;").replace("  ", "&nbsp;&nbsp;"), x=x / W, y=1 - y / H,
                            xref="paper", yref="paper", showarrow=False, xanchor="center", yanchor="middle",
                            font=dict(family=FONT, size=size, color=color)))
fig.update_layout(annotations=annotations)

fig.write_html("out.html", post_script="document.body.style.margin='0';", config={"displayModeBar": False})
